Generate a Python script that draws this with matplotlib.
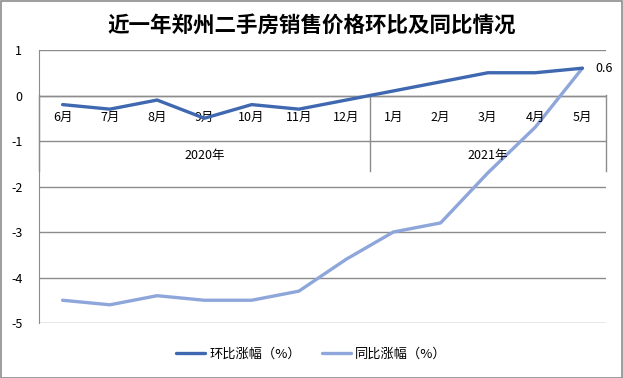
import matplotlib
matplotlib.use("Agg")
import matplotlib.pyplot as plt
import matplotlib.transforms as mtransforms
from matplotlib.patches import Rectangle

plt.rcParams['font.family'] = ['Noto Sans CJK SC', 'DejaVu Sans']
plt.rcParams['axes.unicode_minus'] = False

months = ["6月", "7月", "8月", "9月", "10月", "11月", "12月", "1月", "2月", "3月", "4月", "5月"]
years = ["2020年", "2021年"]
year_counts = [7, 5]
mom = [-0.2, -0.3, -0.1, -0.5, -0.2, -0.3, -0.1, 0.1, 0.3, 0.5, 0.5, 0.6]
yoy = [-4.5, -4.6, -4.4, -4.5, -4.5, -4.3, -3.6, -3.0, -2.8, -1.7, -0.7, 0.6]
series_names = ["环比涨幅（%）", "同比涨幅（%）"]
title = "近一年郑州二手房销售价格环比及同比情况"

W, H = 623, 378
fig = plt.figure(figsize=(W / 100, H / 100), dpi=100)
fig.patches.append(Rectangle((0.5 / W, 0.5 / H), 1 - 1.5 / W, 1 - 1.5 / H, transform=fig.transFigure,
                             fill=False, edgecolor="#8c8c8c", linewidth=1.2))

left, right, top, bottom = 39, 606, 50, 323
ax = fig.add_axes([left / W, 1 - bottom / H, (right - left) / W, (bottom - top) / H])
ax.set_xlim(0, len(months))
ax.set_ylim(-5, 1)

grid_c = "#8c8c8c"
for s in ["top", "right", "bottom"]:
    ax.spines[s].set_visible(False)
ax.spines["left"].set_color(grid_c)
ax.set_yticks(range(-5, 2))
ax.yaxis.grid(True, color=grid_c, linewidth=1)
ax.set_axisbelow(True)
ax.tick_params(axis="y", length=0, pad=12, labelsize=9)
ax.set_xticks([])

x = [i + 0.5 for i in range(len(months))]
c1, c2 = "#4068b0", "#8ea6da"
ax.plot(x, yoy, color=c2, linewidth=2.4, label=series_names[1], zorder=3, solid_capstyle="round")
ax.plot(x, mom, color=c1, linewidth=2.4, label=series_names[0], zorder=4, solid_capstyle="round")
ax.annotate(f"{mom[-1]:g}", (x[-1], mom[-1]), xytext=(9, 0), textcoords="offset points",
            va="center", ha="left", fontsize=9)

# category axis
ax.axhline(0, color=grid_c, linewidth=1, zorder=2)
trans = mtransforms.blended_transform_factory(ax.transData, ax.transAxes)
y_top = (bottom - 95) / (bottom - top)
y_bot = (bottom - 171) / (bottom - top)
y_month = (bottom - 117) / (bottom - top)
y_year = (bottom - 155) / (bottom - top)
for xi, m in zip(x, months):
    ax.text(xi, y_month, m, transform=trans, ha="center", va="center", fontsize=9)
start = 0
bounds = [0]
for name, cnt in zip(years, year_counts):
    ax.text(start + cnt / 2, y_year, name, transform=trans, ha="center", va="center", fontsize=9)
    start += cnt
    bounds.append(start)
for b in bounds:
    ax.plot([b, b], [y_bot, y_top], transform=trans, color=grid_c, linewidth=1, clip_on=False, zorder=2)

fig.text(0.5, 1 - 25 / H, title, ha="center", va="center", fontsize=15.5, fontweight="bold")

handles, labels = ax.get_legend_handles_labels()
fig.legend(handles[::-1], labels[::-1], loc="center", bbox_to_anchor=(0.5, 1 - 354 / H), ncol=2,
           frameon=False, fontsize=9.5, handlelength=2.2, columnspacing=1.6, handletextpad=0.3)

fig.savefig("out.png", dpi=100)
